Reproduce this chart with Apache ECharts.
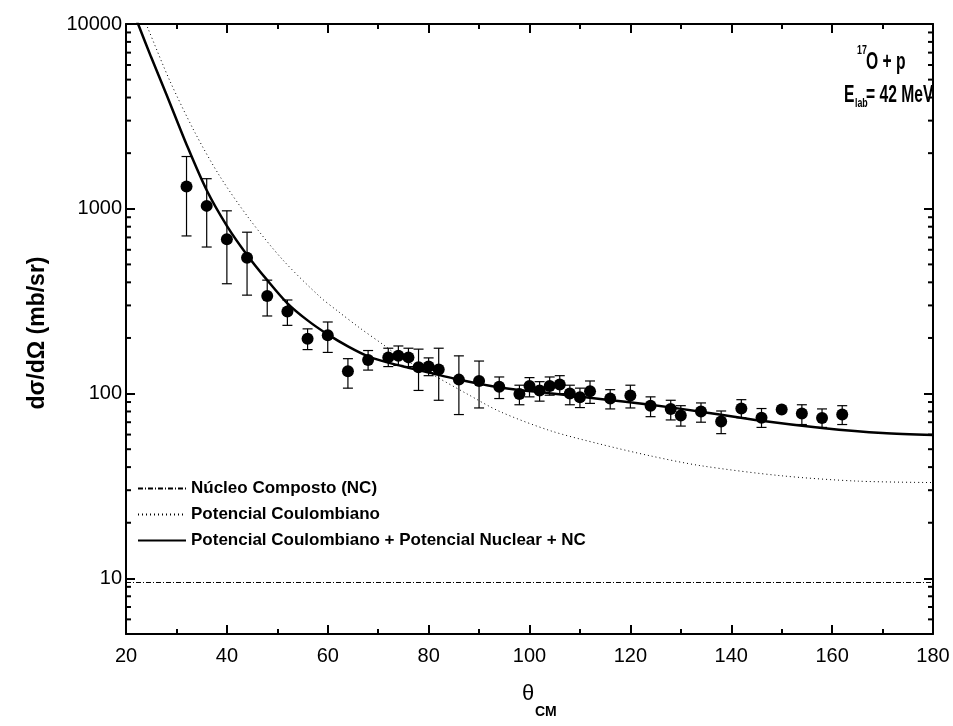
<!DOCTYPE html>
<html>
<head>
<meta charset="utf-8">
<script src="https://cdn.jsdelivr.net/npm/echarts@6/dist/echarts.min.js"></script>
<style>
  html, body { margin: 0; padding: 0; background: #fff; }
  #main { width: 953px; height: 726px; }
</style>
</head>
<body>
<div id="main"></div>
<script>
// measured points (theta_CM, dsigma/dOmega, error bar bounds)
const theta = [32, 36, 40, 44, 48, 52, 56, 60, 64, 68, 72, 74, 76, 78, 80, 82, 86, 90, 94, 98,
  100, 102, 104, 106, 108, 110, 112, 116, 120, 124, 128, 130, 134, 138, 142, 146, 150, 154, 158, 162];
const sigma = [1320, 1037, 684, 543, 337, 278, 198, 207, 132, 152, 157, 160, 157, 139, 140, 135, 119, 117, 109, 99.6,
  110, 104, 110, 112, 100, 95.5, 103, 94, 97.5, 86, 82.6, 76, 80, 70.6, 83, 74, 82, 78, 73.8, 77];
const errHigh = [1918, 1455, 975, 747, 411, 321, 224, 244, 154.5, 171, 176, 181, 176, 174, 156, 176, 160, 150, 123, 111,
  122, 116, 123, 125, 111, 107, 117, 105, 111, 96, 92, 86, 89, 80.5, 92.7, 83, 82, 87, 82.6, 86];
const errLow = [713, 621, 393, 341, 263, 234, 173, 167, 107, 134, 140, 142, 140, 104, 125, 92, 77, 83.6, 94, 87,
  96, 91, 98, 100, 87, 84, 88.5, 82.6, 83.6, 75, 72, 66.7, 70, 60.7, 74, 65.6, 82, 68, 65.6, 68];

// Coulomb + nuclear + NC
const fitTheta = [21, 22.4, 25, 28, 32, 36, 40, 44, 48, 52, 56, 60, 64, 68, 72, 76, 80, 86, 94, 104, 114, 124, 134, 146, 158, 170, 180];
const fitSigma = [12500, 10000, 6600, 4170, 2230, 1260, 809, 563, 411, 308, 249, 209, 180, 159, 147, 138, 130, 119, 108, 100.5, 93.6, 87, 79.8, 71.3, 65.2, 61.1, 59.7];

// Coulomb only
const coulTheta = [23, 24.4, 28.7, 33.7, 38.6, 44.6, 51.2, 58.5, 61.8, 66.4, 71, 74.3, 80.9, 87.5, 94.1, 104.1, 114, 124, 134, 150, 165, 180];
const coulSigma = [11600, 9400, 4920, 2576, 1500, 871, 525, 333, 282, 226, 184, 158, 126, 100, 80, 63, 53.3, 46, 40.7, 35.9, 33.6, 33];

// compound nucleus (flat)
const ncTheta = [20, 180];
const ncSigma = [9.5, 9.5];

const yMinorTicks = [6, 7, 8, 9, 20, 30, 40, 50, 60, 70, 80, 90, 200, 300, 400, 500, 600, 700, 800, 900,
  2000, 3000, 4000, 5000, 6000, 7000, 8000, 9000];

const FONT = "'Liberation Sans', Arial, sans-serif";
const zip = (a, b) => a.map((v, i) => [v, b[i]]);

const myChart = echarts.init(document.getElementById('main'));

const xAxisBase = {
  type: 'value', min: 20, max: 180, interval: 20,
  axisLine: { onZero: false, lineStyle: { color: '#000', width: 2 } },
  axisTick: { inside: true, length: 9, lineStyle: { color: '#000', width: 2 } },
  minorTick: { show: true, splitNumber: 2, length: 5, lineStyle: { color: '#000', width: 2 } },
  splitLine: { show: false }
};
const yAxisBase = {
  type: 'log', logBase: 10, min: 5, max: 10000,
  axisLine: { onZero: false, lineStyle: { color: '#000', width: 2 } },
  axisTick: { inside: true, length: 9, lineStyle: { color: '#000', width: 2 } },
  splitLine: { show: false }
};

myChart.setOption({
  animation: false,
  backgroundColor: '#fff',
  color: ['#000'],
  textStyle: { fontFamily: FONT },
  grid: { left: 126, right: 20, top: 24, bottom: 92 },
  xAxis: [
    Object.assign({}, xAxisBase, {
      position: 'bottom',
      axisLabel: { fontSize: 20, color: '#000', margin: 12, fontFamily: FONT }
    }),
    Object.assign({}, xAxisBase, { position: 'top', axisLabel: { show: false } })
  ],
  yAxis: [
    Object.assign({}, yAxisBase, {
      position: 'left',
      axisLabel: {
        fontSize: 20, color: '#000', margin: 4, fontFamily: FONT, showMinLabel: false,
        formatter: v => String(Math.round(v))
      }
    }),
    Object.assign({}, yAxisBase, { position: 'right', axisLabel: { show: false } })
  ],
  legend: {
    orient: 'vertical', left: 137, top: 480, padding: 0,
    itemWidth: 48, itemHeight: 14, itemGap: 9,
    itemStyle: { color: 'rgba(0,0,0,0)', borderWidth: 0, opacity: 0 },
    textStyle: { fontSize: 17, fontWeight: 'bold', color: '#000', fontFamily: FONT },
    data: ['Núcleo Composto (NC)', 'Potencial Coulombiano', 'Potencial Coulombiano + Potencial Nuclear + NC']
  },
  series: [
    {
      name: 'Núcleo Composto (NC)', type: 'line', data: zip(ncTheta, ncSigma),
      symbol: 'none', itemStyle: { color: '#000' },
      lineStyle: { color: '#000', width: 1, type: [5, 2, 1, 2] }
    },
    {
      name: 'Potencial Coulombiano', type: 'line', data: zip(coulTheta, coulSigma),
      symbol: 'none', smooth: 0.3, itemStyle: { color: '#000' },
      lineStyle: { color: '#000', width: 1, type: [1, 3] }
    },
    {
      name: 'Potencial Coulombiano + Potencial Nuclear + NC', type: 'line', data: zip(fitTheta, fitSigma),
      symbol: 'none', smooth: 0.3, itemStyle: { color: '#000' },
      lineStyle: { color: '#000', width: 2.5 }
    },
    {
      type: 'custom', name: 'err', z: 3,
      data: theta.map((t, i) => [t, errLow[i], errHigh[i]]),
      encode: { x: 0, y: [1, 2] },
      renderItem: (params, api) => {
        const lo = api.coord([api.value(0), api.value(1)]);
        const hi = api.coord([api.value(0), api.value(2)]);
        const w = 5;
        const st = { stroke: '#000', lineWidth: 1.2 };
        return {
          type: 'group', children: [
            { type: 'line', shape: { x1: lo[0], y1: lo[1], x2: hi[0], y2: hi[1] }, style: st },
            { type: 'line', shape: { x1: lo[0] - w, y1: lo[1], x2: lo[0] + w, y2: lo[1] }, style: st },
            { type: 'line', shape: { x1: hi[0] - w, y1: hi[1], x2: hi[0] + w, y2: hi[1] }, style: st }
          ]
        };
      }
    },
    {
      type: 'scatter', name: 'data', z: 4, data: zip(theta, sigma),
      symbol: 'circle', symbolSize: 12, itemStyle: { color: '#000', opacity: 1 }
    },
    {
      // minor ticks of the log axis (left and right frame)
      type: 'custom', name: 'minor', silent: true,
      data: yMinorTicks.map(v => [20, v]),
      renderItem: (params, api) => {
        const y = api.coord([20, api.value(1)])[1];
        const cs = params.coordSys;
        const st = { stroke: '#000', lineWidth: 2 };
        return {
          type: 'group', children: [
            { type: 'line', shape: { x1: cs.x, y1: y, x2: cs.x + 5, y2: y }, style: st },
            { type: 'line', shape: { x1: cs.x + cs.width - 5, y1: y, x2: cs.x + cs.width, y2: y }, style: st }
          ]
        };
      }
    }
  ],
  graphic: [
    { type: 'text', x: 38, y: 333, rotation: Math.PI / 2,
      style: { text: 'dσ/dΩ (mb/sr)', font: 'bold 23px ' + FONT, fill: '#000', align: 'center', verticalAlign: 'middle' } },
    { type: 'text', x: 522, y: 683,
      style: { text: 'θ', font: '22px ' + FONT, fill: '#000' } },
    { type: 'text', x: 535, y: 705,
      style: { text: 'CM', font: 'bold 14px ' + FONT, fill: '#000' } },
    { type: 'text', x: 857, y: 44, scaleX: 0.68,
      style: { text: '17', font: 'bold 13px ' + FONT, fill: '#000' } },
    { type: 'text', x: 866, y: 51, scaleX: 0.68,
      style: { text: 'O + p', font: 'bold 23px ' + FONT, fill: '#000' } },
    { type: 'text', x: 844, y: 84, scaleX: 0.68,
      style: { text: 'E', font: 'bold 23px ' + FONT, fill: '#000' } },
    { type: 'text', x: 855, y: 97, scaleX: 0.68,
      style: { text: 'lab', font: 'bold 13px ' + FONT, fill: '#000' } },
    { type: 'text', x: 866, y: 84, scaleX: 0.68,
      style: { text: '= 42 MeV', font: 'bold 23px ' + FONT, fill: '#000' } }
  ]
});
</script>
</body>
</html>
